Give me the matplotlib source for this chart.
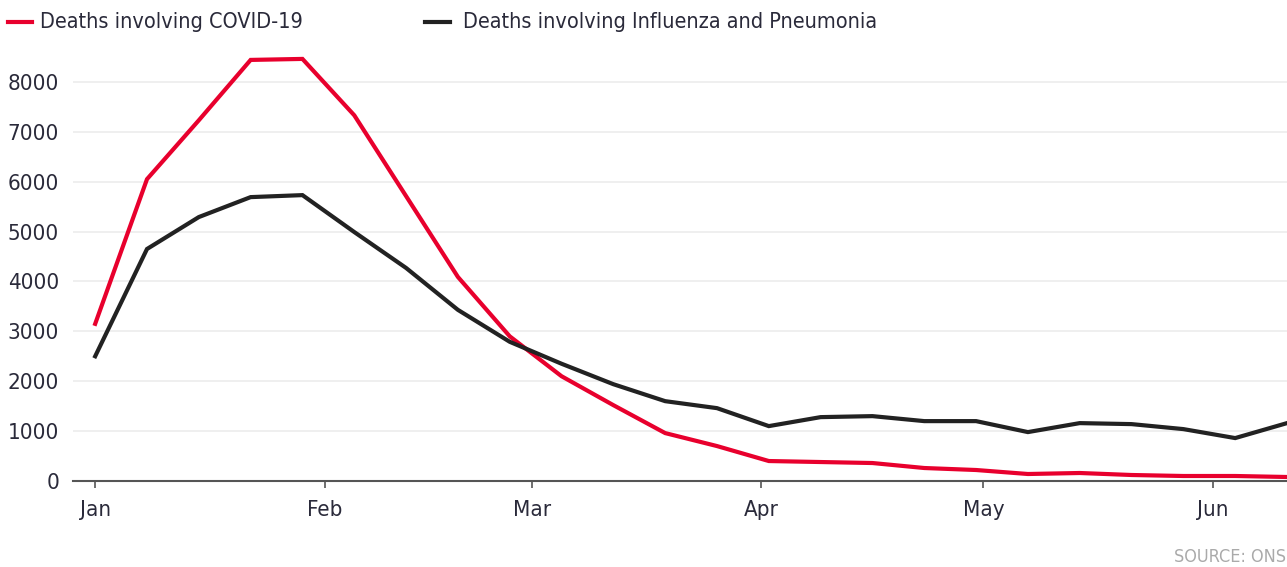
import pandas as pd
import matplotlib.pyplot as plt

plt.rcParams['font.family'] = ['DejaVu Sans']
plt.rcParams['font.stretch'] = 'condensed'

weeks = ['2021-01-01', '2021-01-08', '2021-01-15', '2021-01-22', '2021-01-29',
         '2021-02-05', '2021-02-12', '2021-02-19', '2021-02-26', '2021-03-05',
         '2021-03-12', '2021-03-19', '2021-03-26', '2021-04-02', '2021-04-09',
         '2021-04-16', '2021-04-23', '2021-04-30', '2021-05-07', '2021-05-14',
         '2021-05-21', '2021-05-28', '2021-06-04', '2021-06-11']
covid = [3150, 6050, 7230, 8440, 8460, 7330, 5710, 4090, 2900, 2100,
         1520, 960, 700, 400, 380, 360, 260, 220, 140, 160,
         120, 100, 100, 80]
flu_pneu = [2500, 4650, 5290, 5690, 5730, 4990, 4270, 3430, 2790, 2350,
            1940, 1600, 1460, 1100, 1280, 1300, 1200, 1200, 980, 1160,
            1140, 1040, 860, 1160]
month_starts = ['2021-01-01', '2021-02-01', '2021-03-01', '2021-04-01',
                '2021-05-01', '2021-06-01']
month_labels = ['Jan', 'Feb', 'Mar', 'Apr', 'May', 'Jun']
y_ticks = [0, 1000, 2000, 3000, 4000, 5000, 6000, 7000, 8000]

start = pd.Timestamp('2021-01-01')
days = [(pd.Timestamp(d) - start).days for d in weeks]
month_days = [(pd.Timestamp(d) - start).days for d in month_starts]

red = '#e8002d'
black = '#222222'
text_col = '#2a2a3a'

fig = plt.figure(figsize=(12.87, 5.67), dpi=100)
ax = fig.add_axes([0.0567, 0.1517, 0.9433, 0.7743])

ax.plot(days, covid, color=red, lw=3, solid_joinstyle='miter', zorder=3)
ax.plot(days, flu_pneu, color=black, lw=3, solid_joinstyle='miter', zorder=3)

ax.set_xlim(-3, 161)
ax.set_ylim(0, 8800)
ax.set_yticks(y_ticks)
ax.set_yticklabels([str(v) for v in y_ticks])
ax.set_xticks(month_days)
ax.set_xticklabels(month_labels)

ax.grid(axis='y', color='#ececec', lw=1.2)
ax.set_axisbelow(True)
for s in ['top', 'right', 'left']:
    ax.spines[s].set_visible(False)
ax.spines['bottom'].set_color('#555555')
ax.spines['bottom'].set_linewidth(1.5)
ax.tick_params(axis='y', length=0, pad=10, labelsize=16, labelcolor=text_col)
ax.tick_params(axis='x', length=5, width=1.2, color='#555555', pad=9,
               labelsize=16, labelcolor=text_col)

# legend drawn by hand along the top
fig.lines.append(plt.Line2D([8 / 1287, 32 / 1287], [1 - 22 / 567] * 2,
                            color=red, lw=3, transform=fig.transFigure))
fig.text(40 / 1287, 1 - 22 / 567, 'Deaths involving COVID-19', fontsize=15.5,
         color=text_col, va='center')
fig.lines.append(plt.Line2D([425 / 1287, 450 / 1287], [1 - 22 / 567] * 2,
                            color=black, lw=3, transform=fig.transFigure))
fig.text(463 / 1287, 1 - 22 / 567, 'Deaths involving Influenza and Pneumonia',
         fontsize=15.5, color=text_col, va='center')

fig.text(0.999, 1 - 557 / 567, 'SOURCE: ONS', fontsize=13, color='#aaaaaa',
         ha='right', va='center')

fig.savefig('out.png', dpi=100)
